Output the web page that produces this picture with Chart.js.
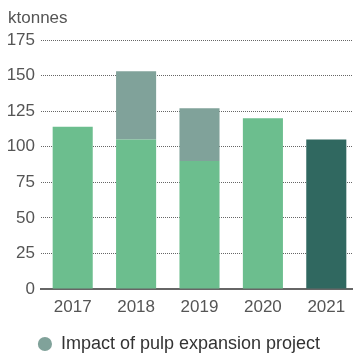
<!DOCTYPE html>
<html>
<head>
<meta charset="utf-8">
<script src="https://cdn.jsdelivr.net/npm/chart.js@4/dist/chart.umd.min.js"></script>
<style>
  html, body { margin: 0; padding: 0; background: #fff; overflow: hidden; }
  #wrap { width: 358px; height: 353px; }
</style>
</head>
<body>
<div id="wrap"><canvas id="myChart" width="358" height="353"></canvas></div>
<script>
// production, ktonnes
var years = ['2017', '2018', '2019', '2020', '2021'];
var baseValues = [114, 105, 90, 120, 105];
var impactValues = [0, 48, 37, 0, 0];
var yTicks = [0, 25, 50, 75, 100, 125, 150, 175];

var baseColors = ['#6cbe8e', '#6cbe8e', '#6cbe8e', '#6cbe8e', '#306860'];
var font = 'Liberation Sans, Arial, sans-serif';

// unit label above the y axis
var unitLabel = {
    id: 'unitLabel',
    afterDraw: function (chart) {
        var ctx = chart.ctx;
        ctx.save();
        ctx.font = '17px ' + font;
        ctx.fillStyle = '#555';
        ctx.textAlign = 'left';
        ctx.textBaseline = 'middle';
        ctx.fillText('ktonnes', 8, 18);
        ctx.restore();
    }
};

var ctx = document.getElementById('myChart').getContext('2d');
var myChart = new Chart(ctx, {
    type: 'bar',
    data: {
        labels: years,
        datasets: [{
            label: 'Production',
            data: baseValues,
            backgroundColor: baseColors,
            borderWidth: 0
        }, {
            label: 'Impact of pulp expansion project',
            data: impactValues,
            backgroundColor: '#80a29a',
            borderWidth: 0
        }]
    },
    options: {
        responsive: false,
        devicePixelRatio: 1,
        animation: false,
        layout: { padding: { top: 40, left: 0, right: 0, bottom: -10 } },
        datasets: {
            bar: { barPercentage: 0.632, categoryPercentage: 1 }
        },
        scales: {
            x: {
                stacked: true,
                grid: { display: false, drawTicks: false },
                border: { display: true, color: '#666', width: 2 },
                ticks: { color: '#555', font: { family: font, size: 17 }, padding: 8 },
                afterFit: function (scale) { scale.height = 45; }
            },
            y: {
                stacked: true,
                min: 0,
                max: 175,
                afterBuildTicks: function (scale) {
                    scale.ticks = yTicks.map(function (v) { return { value: v }; });
                },
                grid: { color: '#666', lineWidth: 1, drawTicks: false },
                border: { display: false, dash: [1, 1] },
                ticks: { color: '#555', font: { family: font, size: 17 }, padding: 6 },
                afterFit: function (scale) { scale.width = 41; }
            }
        },
        plugins: {
            tooltip: { enabled: false },
            legend: {
                position: 'bottom',
                labels: {
                    usePointStyle: true,
                    pointStyle: 'circle',
                    boxWidth: 14,
                    boxHeight: 10,
                    padding: 1,
                    color: '#333',
                    font: { family: font, size: 18 },
                    filter: function (item) { return item.datasetIndex === 1; }
                }
            }
        }
    },
    plugins: [unitLabel]
});
</script>
</body>
</html>
